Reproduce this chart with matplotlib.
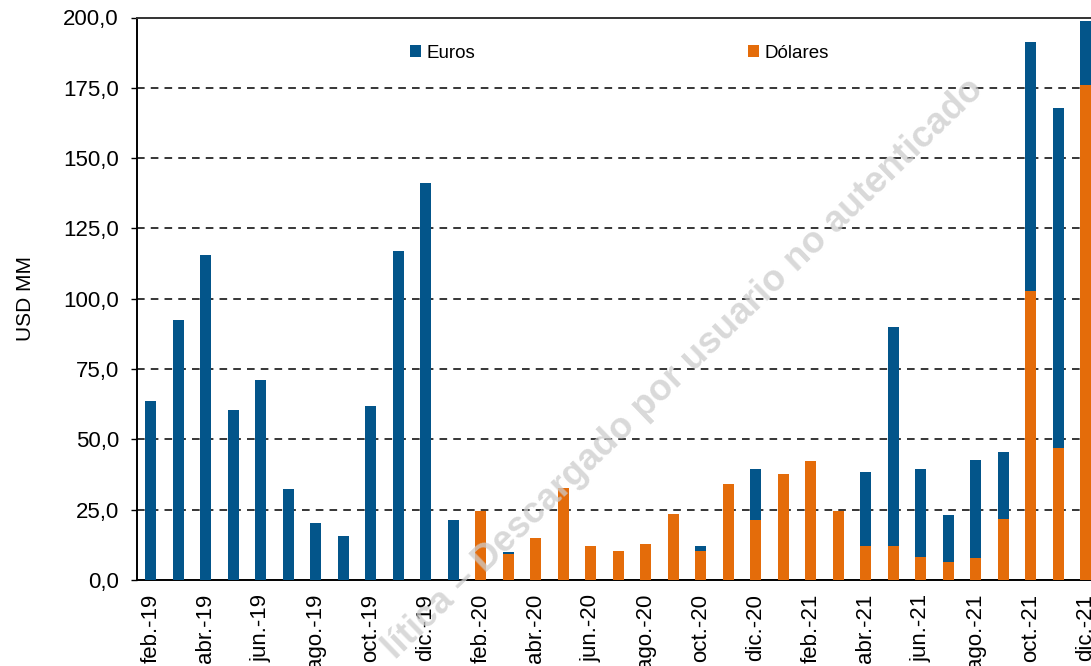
import matplotlib
matplotlib.use("Agg")
import matplotlib.pyplot as plt
import numpy as np

plt.rcParams["font.family"] = ["Liberation Sans", "DejaVu Sans"]

months = [
    "feb.-19", "mar.-19", "abr.-19", "may.-19", "jun.-19", "jul.-19",
    "ago.-19", "sep.-19", "oct.-19", "nov.-19", "dic.-19", "ene.-20",
    "feb.-20", "mar.-20", "abr.-20", "may.-20", "jun.-20", "jul.-20",
    "ago.-20", "sep.-20", "oct.-20", "nov.-20", "dic.-20", "ene.-21",
    "feb.-21", "mar.-21", "abr.-21", "may.-21", "jun.-21", "jul.-21",
    "ago.-21", "sep.-21", "oct.-21", "nov.-21", "dic.-21",
]
dolares = [
    0, 0, 0, 0, 0, 0, 0, 0, 0, 0, 0, 0,
    24.4, 9.1, 14.9, 32.7, 12.2, 10.4, 12.7, 23.3, 10.3, 34.3, 21.3,
    37.8, 42.2, 24.4, 12.2, 12.2, 8.1, 6.3, 7.8, 21.7, 102.9, 46.9, 176.1,
]
euros = [
    63.7, 92.4, 115.5, 60.6, 71.0, 32.2, 20.1, 15.5, 61.7, 117.0, 141.1, 21.3,
    0, 0.7, 0, 0, 0, 0, 0, 0, 1.9, 0, 18.1,
    0, 0, 0, 26.1, 77.6, 31.4, 16.9, 34.9, 23.7, 88.3, 120.8, 22.7,
]
y_ticks = [0, 25, 50, 75, 100, 125, 150, 175, 200]

BLUE = "#03558a"
ORANGE = "#e46c0a"

W, H = 1091, 666
fig = plt.figure(figsize=(W / 100, H / 100), dpi=100)
# the plot runs past the right edge of the picture, as in the source
left, right, top, bottom = 137, 1099.75, 17.5, 580
ax = fig.add_axes([left / W, 1 - bottom / H, (right - left) / W, (bottom - top) / H])

x = np.arange(len(months))
ax.bar(x, dolares, width=0.4, color=ORANGE, label="Dólares", zorder=3)
ax.bar(x, euros, width=0.4, bottom=dolares, color=BLUE, label="Euros", zorder=3)

ax.set_xlim(-0.5, len(months) - 0.5)
ax.set_ylim(0, 200)
ax.set_yticks(y_ticks)
ax.set_yticklabels([f"{v:.1f}".replace(".", ",") for v in y_ticks], fontsize=16)
ax.set_xticks(x[::2])
ax.set_xticklabels(months[::2], rotation=90, fontsize=16)
ax.tick_params(axis="x", length=0, pad=10)
ax.tick_params(axis="y", length=4, width=1, direction="out", pad=9)

for v in y_ticks[1:-1]:
    ax.axhline(v, color="black", linestyle=(0, (5, 4)), linewidth=1.1, zorder=1)

for side in ["left", "bottom", "top"]:
    ax.spines[side].set_linewidth(1.4)
    ax.spines[side].set_color("black")
ax.spines["top"].set_color("#333333")
ax.spines["right"].set_visible(False)

ax.set_ylabel("USD MM", fontsize=15, labelpad=20)

handles, labels = ax.get_legend_handles_labels()
fig.legend(
    handles[::-1], labels[::-1],
    ncol=2, frameon=False, fontsize=13.5,
    loc="center left", bbox_to_anchor=(410 / W, 1 - 53 / H),
    handlelength=0.6, handleheight=0.6, handletextpad=0.3,
    columnspacing=14.5, borderpad=0, borderaxespad=0,
)

# watermark
fig.text(
    683 / W, 1 - 369 / H,
    "lítica – Descargado por usuario no autenticado",
    rotation=44.0, rotation_mode="anchor", ha="center", va="center",
    fontsize=26.5, fontweight="bold", color="#cccccc", alpha=0.75, zorder=10,
)

fig.savefig("out.png", dpi=100)
